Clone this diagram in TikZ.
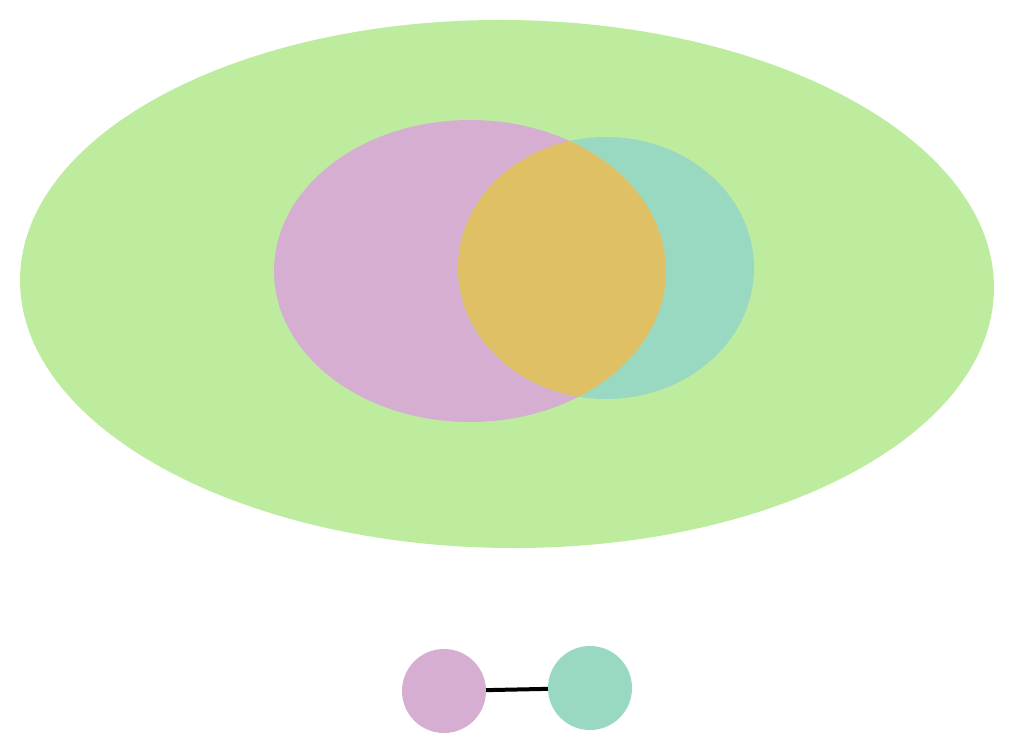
\documentclass[tikz,border=0pt]{standalone}
\definecolor{cgreen}{HTML}{BDEC9F}
\definecolor{cpink}{HTML}{D6AED2}
\definecolor{cteal}{HTML}{99D9C1}
\definecolor{cover}{HTML}{E0C064}
\tikzset{
  dot/.style={circle, minimum size=84pt, inner sep=0pt},
  link/.style={line width=4pt, black}
}
\begin{document}
\begin{tikzpicture}[x=1pt,y=-1pt]
\useasboundingbox (0,0) rectangle (1015,754);
\fill[cgreen, rotate around={-0.6:(507,284)}] (507,284) ellipse [x radius=487, y radius=264];
\fill[cpink] (470,271) ellipse [x radius=196, y radius=151];
\fill[cteal] (606,268) ellipse [x radius=148, y radius=131];
\begin{scope}
  \clip (470,271) ellipse [x radius=196, y radius=151];
  \fill[cover] (606,268) ellipse [x radius=148, y radius=131];
\end{scope}
\node[dot, fill=cpink] (p) at (444,691) {};
\node[dot, fill=cteal] (t) at (590,688) {};
\draw[link] (p) -- (t);
\end{tikzpicture}
\end{document}
